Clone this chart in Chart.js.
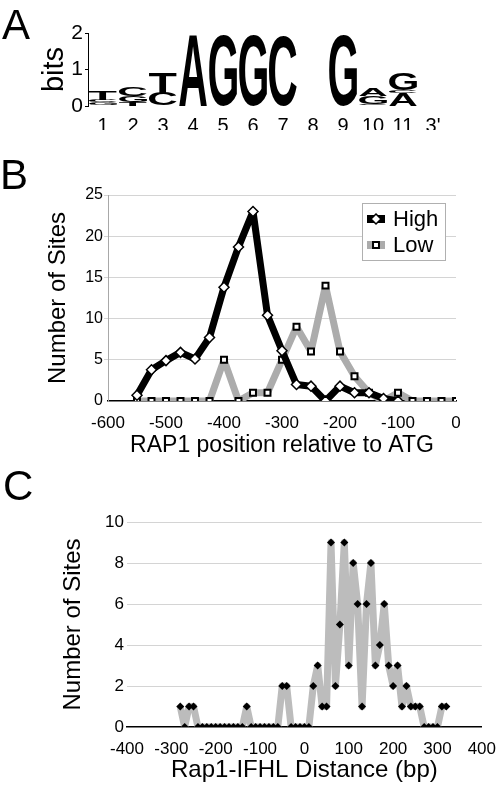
<!DOCTYPE html>
<html>
<head>
<meta charset="utf-8">
<script src="https://cdn.jsdelivr.net/npm/chart.js@4"></script>
<style>
body { margin:0; background:#fff; }
#wrap { position:relative; width:500px; height:787px; overflow:hidden; background:#fff; }
canvas { position:absolute; left:0; }
.panel { position:absolute; font:42px "Liberation Sans", Arial, sans-serif; line-height:42px; color:#000; }
</style>
</head>
<body>
<div id="wrap">
<canvas id="logo" width="500" height="130" style="top:0px"></canvas>
<canvas id="ratio" width="500" height="330" style="top:130px"></canvas>
<canvas id="dist" width="500" height="327" style="top:460px"></canvas>
<div class="panel" style="left:2px;top:4px">A</div>
<div class="panel" style="left:0px;top:154px">B</div>
<div class="panel" style="left:3px;top:465px">C</div>
</div>
<script>
// panel A: sequence logo, stacked bottom to top
var logoPositions = ['1','2','3','4','5','6','7','8','9','10','11',"3'"];
var logoLetters1 = ['G','T','C','A','G','G','C','','G','C','A',''];
var logoBits1 = [0.10,0.11,0.36,1.98,1.95,1.95,1.92,0,1.95,0.05,0.36,0];
var logoLetters2 = ['C','G','T','','','','','','','G','C',''];
var logoBits2 = [0.07,0.16,0.55,0,0,0,0,0,0,0.23,0.06,0];
var logoLetters3 = ['T','C','','','','','','','','A','G',''];
var logoBits3 = [0.25,0.24,0,0,0,0,0,0,0,0.20,0.46,0];
var logoTicks = [0,1,2];

// panel B: RAP1 position relative to ATG
var bPositions = [-550,-525,-500,-475,-450,-425,-400,-375,-350,-325,-300,-275,-250,-225,-200,-175,-150,-125,-100,-75,-50,-25,0];
var bHigh = [0.7,3.8,4.9,5.9,5.1,7.7,13.8,18.7,23,10.4,6.1,2.0,1.8,0,1.8,1.0,1.0,0.3,0,null,null,null,null];
var bLow = [0,0,0,0,0,0,5,0,1,1,5,9,6,14,6,3,1,0,1,0,0,0,0];

// panel C: Rap1-IFHL distance
var cDistance = [-280,-270,-260,-250,-240,-230,-220,-210,-200,-190,
  -180,-170,-160,-150,-140,-130,-120,-110,-100,-90,
  -80,-70,-60,-50,-40,-30,-20,-10,0,10,
  20,30,40,50,60,70,80,90,100,110,
  120,130,140,150,160,170,180,190,200,210,
  220,230,240,250,260,270,280,290,300,310,320];
var cSites = [1,0,1,1,0,0,0,0,0,0,
  0,0,0,0,0,1,0,0,0,0,
  0,0,0,2,2,0,0,0,0,0,
  2,3,1,1,9,2,5,9,3,8,
  6,1,6,8,3,4,6,3,2,3,
  1,2,1,1,1,0,0,0,0,1,1];

Chart.defaults.font.family = '"Liberation Sans", Arial, sans-serif';
Chart.defaults.color = '#000';
Chart.defaults.animation = false;
Chart.defaults.plugins.legend.display = false;
Chart.defaults.plugins.tooltip.enabled = false;

function pts(xs, ys) {
  return xs.map(function(x, i) { return {x: x, y: ys[i]}; });
}

function gridNoZero(c) {
  return c.tick && c.tick.value === 0 ? 'rgba(0,0,0,0)' : '#d4d4d4';
}

// draws each letter stretched into its bar rectangle
var letterPlugin = {
  id: 'letters',
  afterDatasetsDraw: function(chart) {
    var ctx = chart.ctx;
    chart.data.datasets.forEach(function(ds, i) {
      var meta = chart.getDatasetMeta(i);
      meta.data.forEach(function(bar, j) {
        var letter = ds.letters[j];
        if (!letter || !ds.data[j]) return;
        var p = bar.getProps(['x', 'y', 'base', 'width'], true);
        ctx.save();
        ctx.font = 'bold 100px "Liberation Sans", Arial, sans-serif';
        ctx.textBaseline = 'alphabetic';
        ctx.textAlign = 'left';
        var m = ctx.measureText(letter);
        var gw = m.actualBoundingBoxLeft + m.actualBoundingBoxRight;
        var gh = m.actualBoundingBoxAscent + m.actualBoundingBoxDescent;
        var top = Math.min(p.y, p.base), h = Math.abs(p.base - p.y);
        ctx.translate(p.x - p.width / 2, top);
        ctx.scale(p.width / gw, h / gh);
        ctx.fillStyle = '#000';
        ctx.fillText(letter, m.actualBoundingBoxLeft, m.actualBoundingBoxAscent);
        ctx.restore();
      });
    });
  }
};

// boxed legend inside the plot, top right
var legendBox = {
  id: 'legendBox',
  afterDraw: function(chart) {
    var ctx = chart.ctx, a = chart.chartArea;
    var x0 = a.right - 94, y0 = a.top + 8;
    ctx.save();
    ctx.fillStyle = '#fff';
    ctx.fillRect(x0, y0, 83, 57);
    ctx.strokeStyle = '#b0b0b0';
    ctx.lineWidth = 1;
    ctx.strokeRect(x0 + 0.5, y0 + 0.5, 83, 57);
    chart.data.datasets.forEach(function(ds, i) {
      var y = y0 + 16 + i * 26;
      ctx.strokeStyle = ds.borderColor;
      ctx.lineWidth = 8;
      ctx.beginPath();
      ctx.moveTo(x0 + 5, y);
      ctx.lineTo(x0 + 23, y);
      ctx.stroke();
      var cx = x0 + 14, r = ds.pointRadius;
      ctx.fillStyle = ds.pointBackgroundColor;
      ctx.strokeStyle = ds.pointBorderColor;
      ctx.lineWidth = ds.pointBorderWidth;
      ctx.beginPath();
      if (ds.pointStyle === 'rectRot') {
        ctx.moveTo(cx, y - r); ctx.lineTo(cx + r, y); ctx.lineTo(cx, y + r); ctx.lineTo(cx - r, y); ctx.closePath();
      } else {
        var s = r * Math.SQRT1_2;
        ctx.rect(cx - s, y - s, 2 * s, 2 * s);
      }
      ctx.fill();
      ctx.stroke();
      ctx.fillStyle = '#000';
      ctx.font = '22px "Liberation Sans", Arial, sans-serif';
      ctx.textBaseline = 'middle';
      ctx.fillText(ds.label, x0 + 31, y + 1);
    });
    ctx.restore();
  }
};

function logoSet(bits, letters) {
  return { data: bits, letters: letters, backgroundColor: 'rgba(0,0,0,0)', borderWidth: 0,
    barPercentage: 0.93, categoryPercentage: 1 };
}

new Chart(document.getElementById('logo'), {
  type: 'bar',
  data: {
    labels: logoPositions,
    datasets: [logoSet(logoBits1, logoLetters1), logoSet(logoBits2, logoLetters2), logoSet(logoBits3, logoLetters3)]
  },
  options: {
    responsive: false,
    layout: { padding: { top: 33, right: 52, left: 0, bottom: 0 } },
    scales: {
      x: {
        stacked: true,
        grid: { display: false },
        border: { display: false },
        ticks: { font: { size: 20 }, padding: 0, autoSkip: false, maxRotation: 0 },
        afterFit: function(s) { s.height = 24; }
      },
      y: {
        stacked: true,
        min: 0, max: 2,
        afterBuildTicks: function(s) { s.ticks = logoTicks.map(function(v) { return {value: v}; }); },
        ticks: { font: { size: 21 }, padding: 2 },
        grid: { drawOnChartArea: false, tickLength: 3, color: '#000' },
        border: { color: '#000' },
        title: { display: true, text: 'bits', font: { size: 29 }, padding: { top: 38, bottom: 0 } },
        afterFit: function(s) { s.width = 88; }
      }
    }
  },
  plugins: [letterPlugin]
});

new Chart(document.getElementById('ratio'), {
  type: 'line',
  data: {
    datasets: [
      { label: 'High', data: pts(bPositions, bHigh), borderColor: '#000', borderWidth: 7, tension: 0,
        borderJoinStyle: 'round', borderCapStyle: 'round',
        pointStyle: 'rectRot', pointRadius: 5, pointBackgroundColor: '#fff', pointBorderColor: '#000', pointBorderWidth: 1.5 },
      { label: 'Low', data: pts(bPositions, bLow), borderColor: '#acacac', borderWidth: 7, tension: 0,
        borderJoinStyle: 'round',
        pointStyle: 'rect', pointRadius: 4.2, pointBackgroundColor: '#fff', pointBorderColor: '#000', pointBorderWidth: 2 }
    ]
  },
  options: {
    responsive: false,
    layout: { padding: { top: 65, right: 44, left: 0, bottom: 0 } },
    scales: {
      x: {
        type: 'linear', min: -600, max: 0,
        ticks: { stepSize: 100, font: { size: 17 }, padding: 4, maxRotation: 0, autoSkip: false },
        grid: { display: false },
        border: { color: '#000', width: 1.5 },
        title: { display: true, text: 'RAP1 position relative to ATG', font: { size: 23 }, padding: { top: 0, bottom: 1 } },
        afterFit: function(s) { s.height = 59; }
      },
      y: {
        min: 0, max: 25,
        ticks: { stepSize: 5, font: { size: 16 }, padding: 1 },
        grid: { color: gridNoZero, tickLength: 4 },
        border: { color: '#a8a8a8' },
        title: { display: true, text: 'Number of Sites', font: { size: 24 }, padding: { top: 44, bottom: 0 } },
        afterFit: function(s) { s.width = 108; }
      }
    }
  },
  plugins: [legendBox]
});

new Chart(document.getElementById('dist'), {
  type: 'line',
  data: {
    datasets: [
      { label: 'Sites', data: pts(cDistance, cSites), borderColor: '#bcbcbc', borderWidth: 7, tension: 0,
        borderJoinStyle: 'round',
        pointStyle: 'rectRot', pointRadius: 4, pointBackgroundColor: '#000', pointBorderColor: '#000', pointBorderWidth: 0 }
    ]
  },
  options: {
    responsive: false,
    layout: { padding: { top: 62, right: 18, left: 0, bottom: 0 } },
    scales: {
      x: {
        type: 'linear', min: -400, max: 400,
        ticks: { stepSize: 100, font: { size: 17 }, padding: 4, maxRotation: 0, autoSkip: false },
        grid: { display: false },
        border: { color: '#000', width: 1.5 },
        title: { display: true, text: 'Rap1-IFHL Distance (bp)', font: { size: 24 }, padding: { top: 0, bottom: 2 } },
        afterFit: function(s) { s.height = 60; }
      },
      y: {
        min: 0, max: 10,
        ticks: { stepSize: 2, font: { size: 17 }, padding: 3 },
        grid: { color: gridNoZero, drawTicks: false },
        border: { display: false },
        title: { display: true, text: 'Number of Sites', font: { size: 24 }, padding: { top: 59, bottom: 0 } },
        afterFit: function(s) { s.width = 127; }
      }
    }
  }
});
</script>
</body>
</html>
